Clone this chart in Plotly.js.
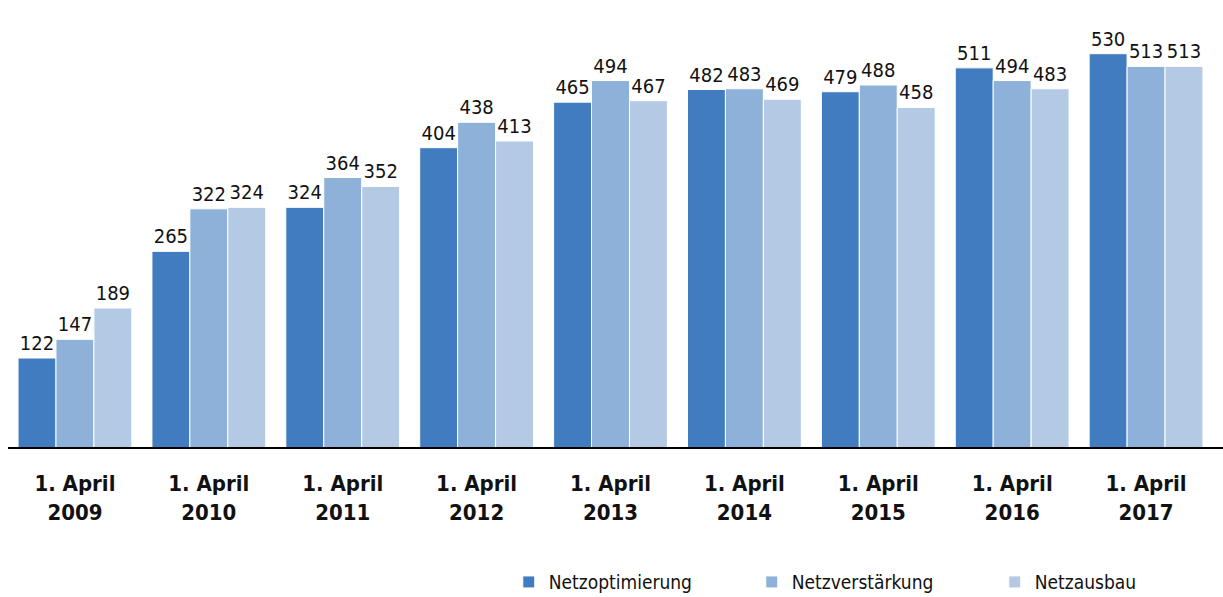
<!DOCTYPE html>
<html>
<head>
<meta charset="utf-8">
<script src="https://cdn.plot.ly/plotly-3.0.1.min.js"></script>
<style>body{margin:0;background:#fff}#chart{width:1223px;height:597px}</style>
</head>
<body>
<div id="chart"></div>
<script>
const years = ["2009", "2010", "2011", "2012", "2013", "2014", "2015", "2016", "2017"];
const netzoptimierung = [122, 265, 324, 404, 465, 482, 479, 511, 530];
const netzverstaerkung = [147, 322, 364, 438, 494, 483, 488, 494, 513];
const netzausbau = [189, 324, 352, 413, 467, 469, 458, 483, 513];

const categories = years.map(y => "<b>1. April<br>" + y + "</b>");
const narrow = "DejaVu Sans Condensed, Arial Narrow, sans-serif";
const labelFont = {family: narrow, size: 20, color: "#111"};

function series(name, values, color) {
  return {
    type: "bar",
    name,
    x: categories,
    y: values,
    text: values.map(String),
    textposition: "outside",
    textfont: labelFont,
    constraintext: "none",
    cliponaxis: false,
    marker: {color, line: {color: "#fff", width: 1}},
    hoverinfo: "y+name",
  };
}

const traces = [
  series("Netzoptimierung", netzoptimierung, "#407cbf"),
  series("Netzverstärkung", netzverstaerkung, "#8eb1d9"),
  series("Netzausbau", netzausbau, "#b4cae4"),
];

Plotly.newPlot("chart", traces, {
  width: 1223,
  height: 597,
  margin: {l: 8, r: 10, t: 0, b: 148},
  paper_bgcolor: "#fff",
  plot_bgcolor: "#fff",
  barmode: "group",
  bargap: 0.15,
  bargroupgap: 0,
  showlegend: true,
  legend: {
    orientation: "h",
    xref: "container", yref: "container",
    x: 0.416, y: 0.025, xanchor: "left", yanchor: "middle",
    font: {family: narrow, size: 19, color: "#111"},
    itemwidth: 30,
    entrywidth: 198,
    traceorder: "normal",
  },
  xaxis: {
    type: "category",
    showline: false,
    showgrid: false,
    ticks: "",
    ticklabelstandoff: 19,
    tickfont: {family: narrow, size: 22, color: "#111"},
  },
  yaxis: {
    range: [0, 602],
    visible: false,
    showgrid: false,
    zeroline: false,
  },
  shapes: [{
    type: "line", xref: "paper", yref: "y",
    x0: 0, x1: 1.0083, y0: 0, y1: 0,
    line: {color: "#000", width: 4},
  }],
}, {displayModeBar: false});
</script>
</body>
</html>
